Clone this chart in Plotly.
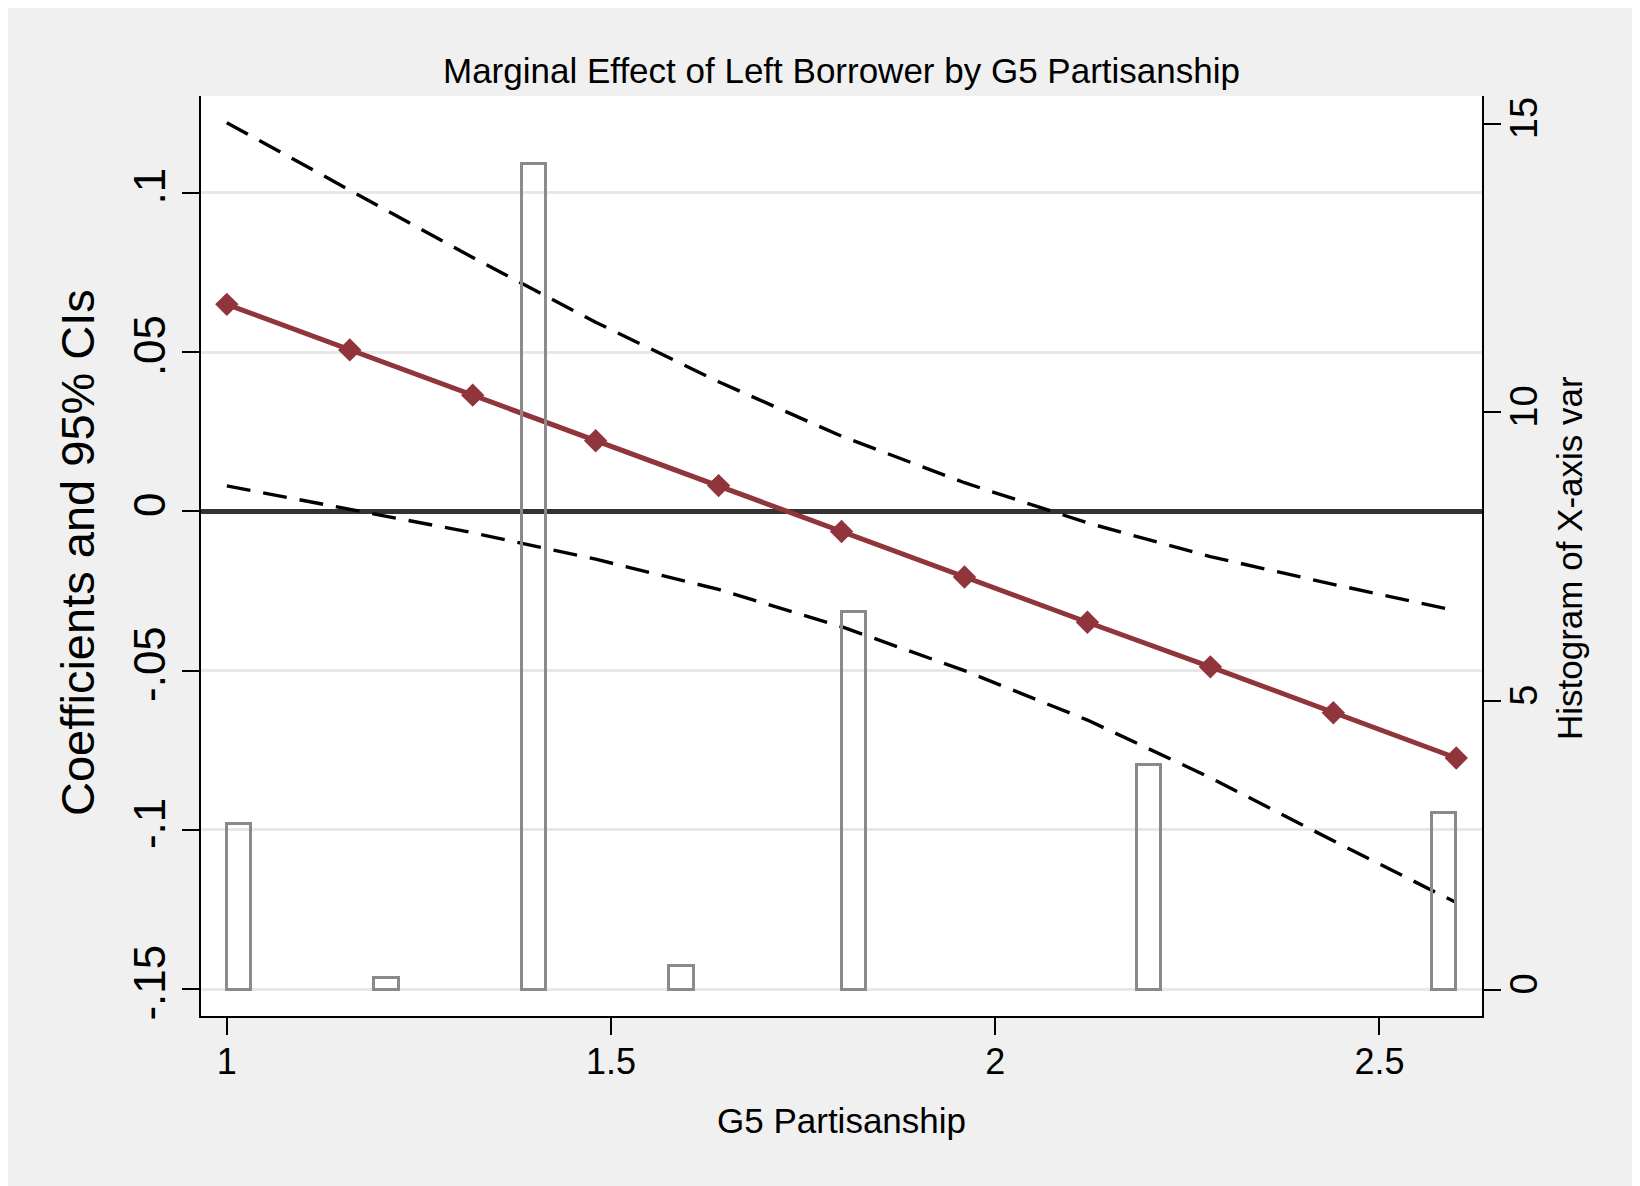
import plotly.graph_objects as go

# ---- data ----
g5_partisanship = [1.00, 1.16, 1.32, 1.48, 1.64, 1.80, 1.96, 2.12, 2.28, 2.44, 2.60]
coef = [0.0650, 0.0507, 0.0365, 0.0222, 0.0081, -0.0063, -0.0206, -0.0348, -0.0488, -0.0632, -0.0774]
ci_upper = [0.1220, 0.1008, 0.0797, 0.0594, 0.0407, 0.0236, 0.0090, -0.0036, -0.0142, -0.0229, -0.0312]
ci_lower = [0.0080, 0.0006, -0.0067, -0.0150, -0.0245, -0.0362, -0.0500, -0.0655, -0.0836, -0.1034, -0.1228]

hist_centers = [1.016, 1.208, 1.400, 1.592, 1.816, 2.200, 2.584]
hist_density = [2.86, 0.205, 14.3, 0.41, 6.54, 3.89, 3.06]
hist_bin_width = 0.032

x_ticks = [1, 1.5, 2, 2.5]
x_ticklabels = ["1", "1.5", "2", "2.5"]
y_ticks = [-0.15, -0.10, -0.05, 0, 0.05, 0.10]
y_ticklabels = ["-.15", "-.1", "-.05", "0", ".05", ".1"]
y2_ticks = [0, 5, 10, 15]
y2_ticklabels = ["0", "5", "10", "15"]

title_text = "Marginal Effect of Left Borrower by G5 Partisanship"
x_title = "G5 Partisanship"
y_title = "Coefficients and 95% CIs"
y2_title = "Histogram of X-axis var"

FONT = "Liberation Sans, Arial, Helvetica, sans-serif"
RED = "#90353B"

fig = go.Figure()

fig.add_trace(go.Scatter(
    x=g5_partisanship, y=ci_upper, mode="lines",
    line=dict(color="black", width=3.4, dash="24px,13px"),
    showlegend=False, hoverinfo="skip"))
fig.add_trace(go.Scatter(
    x=g5_partisanship, y=ci_lower, mode="lines",
    line=dict(color="black", width=3.4, dash="24px,13px"),
    showlegend=False, hoverinfo="skip"))
fig.add_trace(go.Scatter(
    x=g5_partisanship, y=coef, mode="lines+markers",
    line=dict(color=RED, width=5),
    marker=dict(symbol="diamond", size=18, color=RED, line=dict(width=0)),
    showlegend=False))
fig.add_trace(go.Bar(
    x=hist_centers, y=hist_density, width=hist_bin_width, yaxis="y2",
    marker=dict(color="rgba(0,0,0,0)", line=dict(color="#8a8a8a", width=3)),
    showlegend=False))

# page has an 8px body margin; figure coordinates = page coordinates - 8
OFF = 8
W, H = 1640 - OFF, 1186 - OFF
L = 201 - OFF
T = 96 - OFF
R = W - (1482 - OFF)
B = H - (1016 - OFF)
pw, ph = W - L - R, H - T - B

def px_x(p):
    return (p - OFF - L) / pw

def px_y(p):
    return (H - B - (p - OFF)) / ph

axis_common = dict(
    ticks="outside", ticklen=17, tickwidth=2, tickcolor="black",
    showline=True, linecolor="black", linewidth=2,
)

fig.update_layout(
    width=W, height=H, autosize=False,
    margin=dict(l=L, r=R, t=T, b=B, pad=0),
    paper_bgcolor="#f0f0f0", plot_bgcolor="white",
    font=dict(family=FONT, color="black"),
    bargap=0,
    xaxis=dict(
        range=[0.9664, 2.6335], tickvals=x_ticks, ticktext=x_ticklabels,
        tickfont=dict(size=36), showgrid=False, zeroline=False,
        ticklabelstandoff=-4, **axis_common),
    yaxis=dict(
        range=[-0.1584, 0.1304], tickvals=y_ticks, ticktext=y_ticklabels,
        tickangle=-90, tickfont=dict(size=44),
        showgrid=True, gridcolor="#e8e8e8", gridwidth=3,
        zeroline=True, zerolinecolor="#333333", zerolinewidth=4.5,
        ticklabelstandoff=-1, **axis_common),
    yaxis2=dict(
        overlaying="y", side="right", range=[-0.459, 15.48],
        tickvals=y2_ticks, ticktext=y2_ticklabels, tickangle=-90,
        tickfont=dict(size=38), showgrid=False, zeroline=False,
        ticklabelstandoff=-10, **axis_common),
    annotations=[
        dict(text=title_text, xref="paper", yref="paper", x=0.5, y=px_y(70),
             xanchor="center", yanchor="middle", showarrow=False,
             font=dict(size=35)),
        dict(text=x_title, xref="paper", yref="paper", x=0.5, y=px_y(1120),
             xanchor="center", yanchor="middle", showarrow=False,
             font=dict(size=35)),
        dict(text=y_title, xref="paper", yref="paper", x=px_x(77), y=px_y(553),
             xanchor="center", yanchor="middle", showarrow=False, textangle=-90,
             font=dict(size=47)),
        dict(text=y2_title, xref="paper", yref="paper", x=px_x(1569), y=px_y(558),
             xanchor="center", yanchor="middle", showarrow=False, textangle=-90,
             font=dict(size=35)),
    ],
)

fig.write_html("out.html")
